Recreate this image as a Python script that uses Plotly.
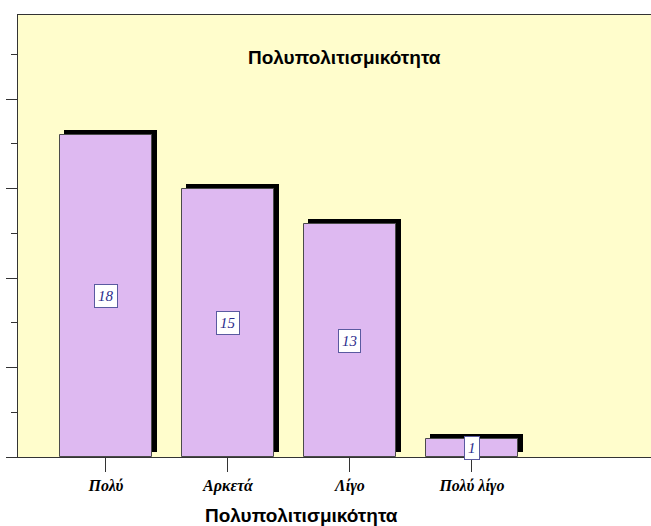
import plotly.graph_objects as go

categories = ["Πολύ", "Αρκετά", "Λίγο", "Πολύ λίγο"]
values = [18, 15, 13, 1]
title_text = "Πολυπολιτισμικότητα"
x_title = "Πολυπολιτισμικότητα"

xs = list(range(len(categories)))
bar_width = 0.757
shadow_dx = 0.037
shadow_dy = 0.28

fig = go.Figure()
# drop shadow
fig.add_trace(go.Bar(
    x=[x + shadow_dx for x in xs], y=values, base=[shadow_dy] * len(values),
    width=bar_width, marker=dict(color="black", line=dict(width=0)),
    hoverinfo="skip", showlegend=False,
))
# main bars
fig.add_trace(go.Bar(
    x=xs, y=values, width=bar_width,
    marker=dict(color="#DEB9F1", line=dict(color="#4a4a4a", width=1)),
    showlegend=False,
))

for x, v in zip(xs, values):
    fig.add_annotation(
        x=x, y=v / 2, xref="x", yref="y", text=str(v), showarrow=False,
        font=dict(family="Liberation Serif", size=15, color="#2B2B8C", style="italic"),
        bgcolor="white", bordercolor="#5A5AA0", borderwidth=1, borderpad=3,
    )

fig.add_annotation(
    x=(344.5 - 18) / 633, y=(457 - 58) / 442, xref="paper", yref="paper",
    xanchor="center", yanchor="middle",
    text=title_text, showarrow=False,
    font=dict(family="Liberation Sans", size=19, color="black", weight="bold"),
)
fig.add_annotation(
    x=(301.5 - 18) / 633, y=(457 - 515) / 442, xref="paper", yref="paper",
    xanchor="center", yanchor="middle",
    text=x_title, showarrow=False,
    font=dict(family="Liberation Sans", size=19, color="black", weight="bold"),
)

fig.update_layout(
    width=651, height=526,
    margin=dict(l=18, r=0, t=15, b=69, autoexpand=False),
    paper_bgcolor="white", plot_bgcolor="#FFFDCC",
    barmode="overlay", bargap=0,
)
fig.update_xaxes(
    range=[-0.721, -0.721 + 633 / 122], tickvals=xs, ticktext=categories,
    showgrid=False, zeroline=False, showline=True, linecolor="#333333", linewidth=1,
    mirror=True, ticks="outside", ticklen=14, tickcolor="#333333",
    tickfont=dict(family="Liberation Serif", size=16, color="black", style="italic", weight="bold"),
)
fig.update_yaxes(
    range=[0, 24.7], dtick=5, tick0=0, showticklabels=False,
    showgrid=False, zeroline=False, showline=True, linecolor="#333333", linewidth=1,
    ticks="outside", ticklen=11, tickcolor="#333333",
    minor=dict(dtick=2.5, ticks="outside", ticklen=6, tickcolor="#333333", showgrid=False),
)

fig.write_html(
    "out.html",
    config={"displayModeBar": False},
    post_script="document.body.style.margin='0';document.body.style.overflow='hidden';",
)
